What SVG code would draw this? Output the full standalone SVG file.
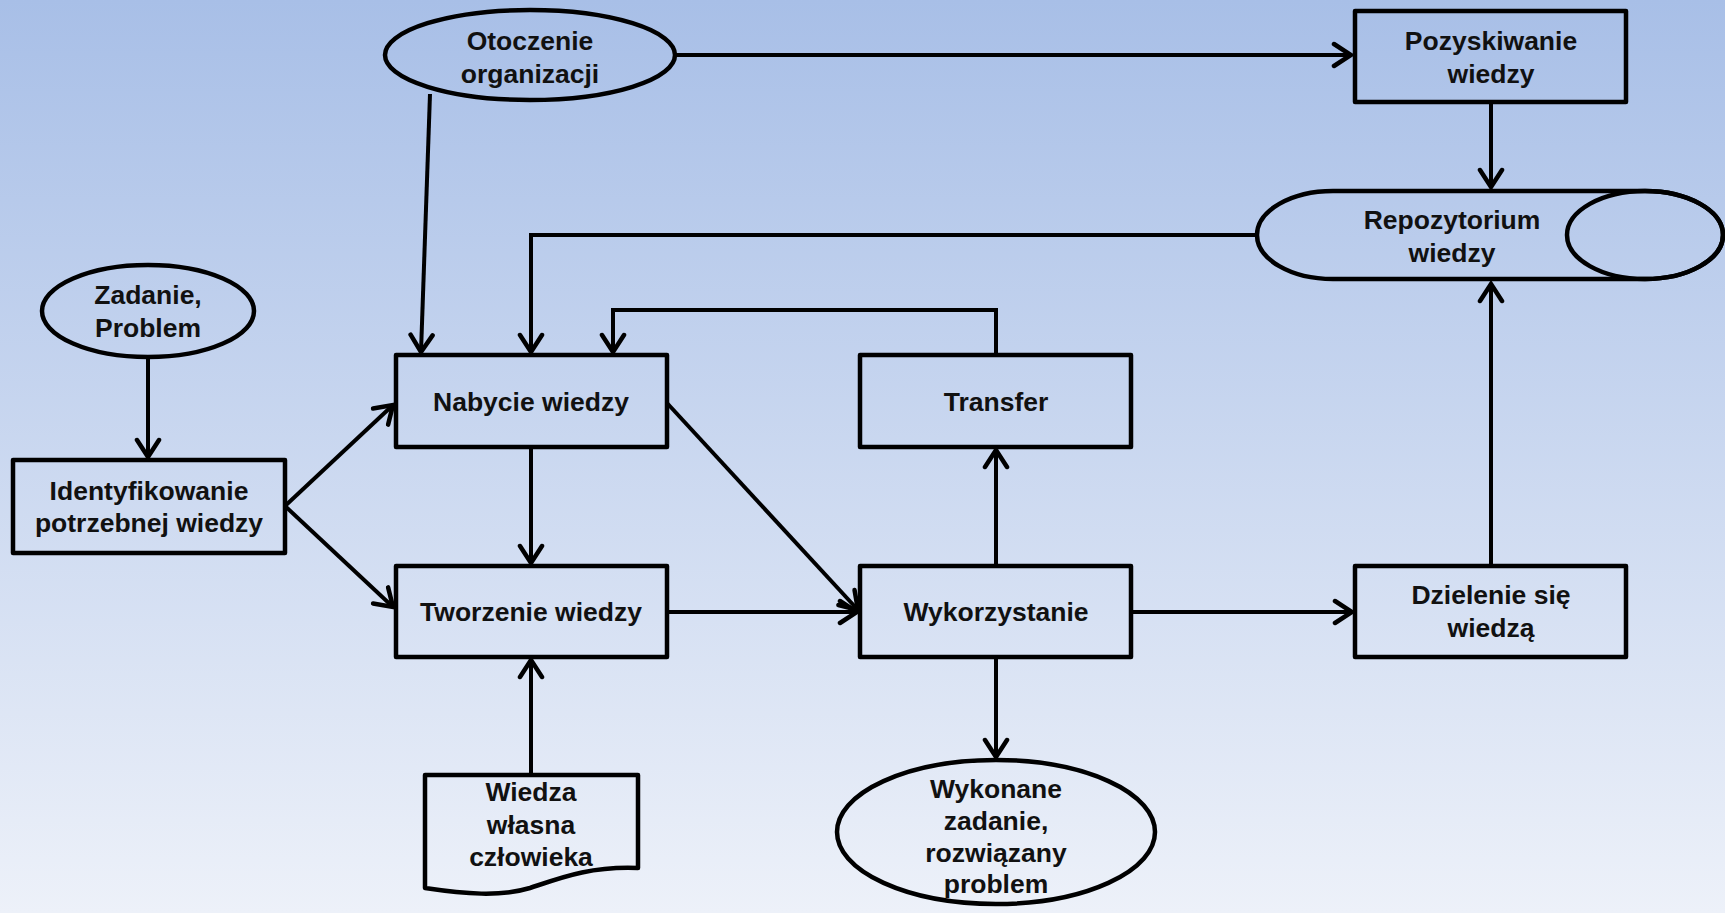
<svg xmlns="http://www.w3.org/2000/svg" width="1725" height="913" viewBox="0 0 1725 913">
  <defs>
    <linearGradient id="bg" x1="0" y1="0" x2="0" y2="1">
      <stop offset="0" stop-color="#a8bfe7"/>
      <stop offset="1" stop-color="#edf1f9"/>
    </linearGradient>
    <marker id="arr" markerUnits="userSpaceOnUse" viewBox="-22 -14 26 28" markerWidth="26" markerHeight="28" refX="0" refY="0" orient="auto">
      <path d="M -17 -11 L 0 0 L -17 11" fill="none" stroke="#000" stroke-width="4.5" stroke-linejoin="miter" stroke-linecap="round"/>
    </marker>
    <style>
      .shape { fill: none; stroke: #000; stroke-width: 4.5; stroke-linejoin: round; }
      .conn { fill: none; stroke: #000; stroke-width: 4; marker-end: url(#arr); }
      text { font-family: "Liberation Sans", Arial, sans-serif; font-weight: bold; font-size: 26.5px; fill: #111; text-anchor: middle; }
    </style>
  </defs>

  <rect x="0" y="0" width="1725" height="913" fill="url(#bg)"/>

  <!-- connectors -->
  <g id="connectors">
    <path class="conn" d="M 676 55 L 1351 55"/>
    <path class="conn" d="M 430 94 L 421 352"/>
    <path class="conn" d="M 1491 102 L 1491 187"/>
    <path class="conn" d="M 1257 235 L 531 235 L 531 352"/>
    <path class="conn" d="M 996 355 L 996 310 L 613 310 L 613 352"/>
    <path class="conn" d="M 148 357 L 148 457"/>
    <path class="conn" d="M 285 506 L 393 405"/>
    <path class="conn" d="M 285 506 L 393 607"/>
    <path class="conn" d="M 531 447 L 531 563"/>
    <path class="conn" d="M 667 403 L 858 610"/>
    <path class="conn" d="M 667 612 L 857 612"/>
    <path class="conn" d="M 996 566 L 996 450"/>
    <path class="conn" d="M 1131 612 L 1352 612"/>
    <path class="conn" d="M 996 657 L 996 757"/>
    <path class="conn" d="M 531 775 L 531 660"/>
    <path class="conn" d="M 1491 566 L 1491 284"/>
  </g>

  <g id="otoczenie">
    <ellipse class="shape" cx="530" cy="55" rx="145" ry="45"/>
    <text x="530" y="50">Otoczenie</text>
    <text x="530" y="83">organizacji</text>
  </g>

  <g id="pozyskiwanie">
    <rect class="shape" x="1355" y="11" width="271" height="91"/>
    <text x="1491" y="50">Pozyskiwanie</text>
    <text x="1491" y="83">wiedzy</text>
  </g>

  <g id="repozytorium">
    <path class="shape" d="M 1645 191 L 1333 191 A 76 44 0 0 0 1333 279 L 1645 279 A 78 44 0 0 0 1645 191 Z"/>
    <ellipse class="shape" cx="1645" cy="235" rx="78" ry="44"/>
    <text x="1452" y="229">Repozytorium</text>
    <text x="1452" y="262">wiedzy</text>
  </g>

  <g id="zadanie">
    <ellipse class="shape" cx="148" cy="311" rx="106" ry="46"/>
    <text x="148" y="304">Zadanie,</text>
    <text x="148" y="337">Problem</text>
  </g>

  <g id="identyfikowanie">
    <rect class="shape" x="13" y="460" width="272" height="93"/>
    <text x="149" y="500">Identyfikowanie</text>
    <text x="149" y="532">potrzebnej wiedzy</text>
  </g>

  <g id="nabycie">
    <rect class="shape" x="396" y="355" width="271" height="92"/>
    <text x="531" y="411">Nabycie wiedzy</text>
  </g>

  <g id="tworzenie">
    <rect class="shape" x="396" y="566" width="271" height="91"/>
    <text x="531" y="621">Tworzenie wiedzy</text>
  </g>

  <g id="transfer">
    <rect class="shape" x="860" y="355" width="271" height="92"/>
    <text x="996" y="411">Transfer</text>
  </g>

  <g id="wykorzystanie">
    <rect class="shape" x="860" y="566" width="271" height="91"/>
    <text x="996" y="621">Wykorzystanie</text>
  </g>

  <g id="dzielenie">
    <rect class="shape" x="1355" y="566" width="271" height="91"/>
    <text x="1491" y="604">Dzielenie się</text>
    <text x="1491" y="637">wiedzą</text>
  </g>

  <g id="wiedza-wlasna">
    <path class="shape" d="M 425 775 L 638 775 L 638 868 C 590 866 560 878 530 888 C 500 897 465 894 425 888 Z"/>
    <text x="531" y="801">Wiedza</text>
    <text x="531" y="834">własna</text>
    <text x="531" y="866">człowieka</text>
  </g>

  <g id="wykonane">
    <ellipse class="shape" cx="996" cy="832" rx="159" ry="72"/>
    <text x="996" y="798">Wykonane</text>
    <text x="996" y="830">zadanie,</text>
    <text x="996" y="862">rozwiązany</text>
    <text x="996" y="893">problem</text>
  </g>
</svg>
